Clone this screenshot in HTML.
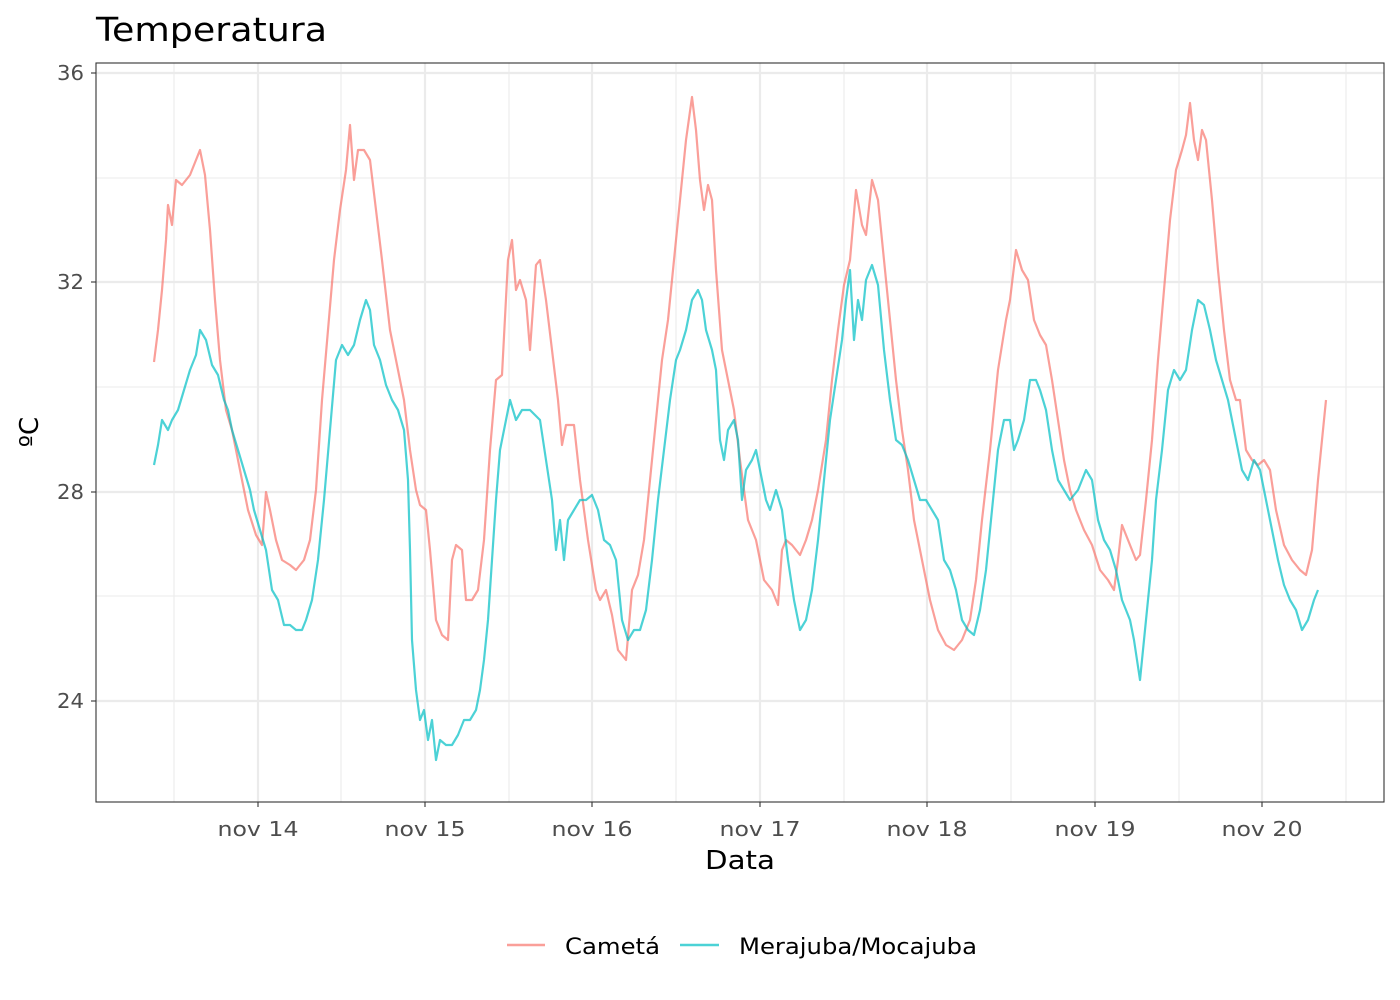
<!DOCTYPE html>
<html><head><meta charset="utf-8"><style>html,body{margin:0;padding:0;background:#fff;}svg{display:block;font-family:"DejaVu Sans","Liberation Sans",sans-serif;}</style></head>
<body>
<svg width="1400" height="1000" viewBox="0 0 1400 1000">
<rect width="1400" height="1000" fill="#fff"/>
<text x="96" y="41" font-size="33" fill="#000" textLength="231" lengthAdjust="spacingAndGlyphs">Temperatura</text>
<g stroke="#ebebeb" stroke-width="1.1">
<line x1="96" x2="1384" y1="178" y2="178"/><line x1="96" x2="1384" y1="387" y2="387"/><line x1="96" x2="1384" y1="596" y2="596"/>
<line y1="63" y2="802" x1="174" x2="174"/><line y1="63" y2="802" x1="341" x2="341"/><line y1="63" y2="802" x1="509" x2="509"/><line y1="63" y2="802" x1="676" x2="676"/><line y1="63" y2="802" x1="844" x2="844"/><line y1="63" y2="802" x1="1011" x2="1011"/><line y1="63" y2="802" x1="1179" x2="1179"/><line y1="63" y2="802" x1="1346" x2="1346"/>
</g>
<g stroke="#ebebeb" stroke-width="2.2">
<line x1="96" x2="1384" y1="73" y2="73"/><line x1="96" x2="1384" y1="282" y2="282"/><line x1="96" x2="1384" y1="492" y2="492"/><line x1="96" x2="1384" y1="701" y2="701"/>
<line y1="63" y2="802" x1="258" x2="258"/><line y1="63" y2="802" x1="425" x2="425"/><line y1="63" y2="802" x1="592" x2="592"/><line y1="63" y2="802" x1="760" x2="760"/><line y1="63" y2="802" x1="927" x2="927"/><line y1="63" y2="802" x1="1095" x2="1095"/><line y1="63" y2="802" x1="1262" x2="1262"/>
</g>
<polyline fill="none" stroke="#F8766D" stroke-opacity="0.7" stroke-width="2.2" stroke-linejoin="round" points="154,362 158,330 162,290 166,240 168,205 172,225 176,180 182,185 190,175 196,160 200,150 205,175 210,230 215,300 220,360 226,410 232,430 240,470 248,510 256,535 262,545 266,492 270,510 276,540 282,560 290,565 296,570 304,560 310,540 316,490 322,400 328,330 334,260 340,210 346,170 350,125 354,180 358,150 364,150 370,160 376,210 382,260 390,330 398,370 404,400 410,450 416,490 420,505 426,510 430,550 436,620 442,635 448,640 452,560 456,545 462,550 466,600 472,600 478,590 484,540 490,450 496,380 502,375 508,260 512,240 516,290 520,280 526,300 530,350 536,265 540,260 546,300 552,350 558,400 562,445 566,425 574,425 580,480 588,540 596,590 600,600 606,590 612,615 618,650 626,660 632,590 638,575 644,540 650,480 656,420 662,360 668,320 674,260 680,200 686,140 692,97 696,130 700,180 704,210 708,185 712,200 716,270 722,350 728,380 734,410 740,460 748,520 756,540 764,580 772,590 778,605 782,550 786,540 792,545 800,555 806,540 812,520 818,490 826,440 832,380 838,330 844,285 850,260 856,190 862,225 866,235 872,180 878,200 884,260 890,320 896,380 902,430 908,470 914,520 922,560 930,600 938,630 946,645 954,650 962,640 970,620 976,580 982,520 990,450 998,370 1006,320 1010,300 1016,250 1022,270 1028,280 1034,320 1040,335 1046,345 1052,380 1058,420 1064,460 1070,490 1076,510 1084,530 1092,545 1100,570 1108,580 1114,590 1118,560 1122,525 1130,545 1136,560 1140,555 1146,500 1152,440 1158,360 1164,290 1170,220 1176,170 1182,150 1186,135 1190,103 1194,140 1198,160 1202,130 1206,140 1212,200 1218,270 1224,330 1230,380 1236,400 1240,400 1246,450 1252,460 1258,465 1264,460 1270,470 1276,510 1284,545 1292,560 1300,570 1306,575 1312,550 1318,480 1322,440 1326,400"/>
<polyline fill="none" stroke="#00BFC4" stroke-opacity="0.7" stroke-width="2.2" stroke-linejoin="round" points="154,465 158,445 162,420 168,430 172,420 178,410 184,390 190,370 196,355 200,330 206,340 212,365 218,375 224,400 228,410 232,430 238,450 244,470 250,490 254,510 260,530 266,550 272,590 278,600 284,625 290,625 296,630 302,630 306,620 312,600 318,560 324,500 330,430 336,360 342,345 348,355 354,345 360,320 366,300 370,310 374,345 380,360 386,385 392,400 398,410 404,430 408,480 410,550 412,640 416,690 420,720 424,710 428,740 432,720 436,760 440,740 446,745 452,745 458,735 464,720 470,720 476,710 480,690 484,660 488,620 492,560 496,500 500,450 506,420 510,400 516,420 522,410 530,410 540,420 546,460 552,500 556,550 560,520 564,560 568,520 574,510 580,500 586,500 592,495 598,510 604,540 610,545 616,560 622,620 628,640 634,630 640,630 646,610 652,560 658,500 664,450 670,400 676,360 680,350 686,330 692,300 698,290 702,300 706,330 712,350 716,370 720,440 724,460 728,430 734,420 738,440 742,500 746,470 752,460 756,450 762,480 766,500 770,510 776,490 782,510 788,560 794,600 800,630 806,620 812,590 818,540 824,480 830,420 836,380 842,340 846,300 850,270 854,340 858,300 862,320 866,280 872,265 878,285 884,350 890,400 896,440 902,445 908,460 914,480 920,500 926,500 932,510 938,520 944,560 950,570 956,590 962,620 968,630 974,635 980,610 986,570 992,510 998,450 1004,420 1010,420 1014,450 1018,440 1024,420 1030,380 1036,380 1040,390 1046,410 1052,450 1058,480 1064,490 1070,500 1078,490 1086,470 1092,480 1098,520 1104,540 1110,550 1116,570 1122,600 1126,610 1130,620 1134,640 1140,680 1144,640 1148,600 1152,560 1156,500 1162,450 1168,390 1174,370 1180,380 1186,370 1192,330 1198,300 1204,305 1210,330 1216,360 1222,380 1228,400 1236,440 1242,470 1248,480 1254,460 1260,470 1266,500 1272,530 1278,560 1284,585 1290,600 1296,610 1302,630 1308,620 1314,600 1318,590"/>
<rect x="96" y="63" width="1288" height="739" fill="none" stroke="#333" stroke-width="1.1"/>
<g stroke="#333" stroke-width="1.1">
<line x1="91" x2="96" y1="73" y2="73"/><line x1="91" x2="96" y1="282" y2="282"/><line x1="91" x2="96" y1="492" y2="492"/><line x1="91" x2="96" y1="701" y2="701"/>
<line y1="802" y2="807" x1="258" x2="258"/><line y1="802" y2="807" x1="425" x2="425"/><line y1="802" y2="807" x1="592" x2="592"/><line y1="802" y2="807" x1="760" x2="760"/><line y1="802" y2="807" x1="927" x2="927"/><line y1="802" y2="807" x1="1095" x2="1095"/><line y1="802" y2="807" x1="1262" x2="1262"/>
</g>
<g font-size="20" fill="#4d4d4d" text-anchor="end">
<text x="84" y="80" textLength="27" lengthAdjust="spacingAndGlyphs">36</text><text x="84" y="289" textLength="27" lengthAdjust="spacingAndGlyphs">32</text><text x="84" y="499" textLength="27" lengthAdjust="spacingAndGlyphs">28</text><text x="84" y="708" textLength="27" lengthAdjust="spacingAndGlyphs">24</text>
</g>
<g font-size="20" fill="#4d4d4d" text-anchor="middle">
<text x="258" y="836" textLength="81" lengthAdjust="spacingAndGlyphs">nov 14</text><text x="425" y="836" textLength="81" lengthAdjust="spacingAndGlyphs">nov 15</text><text x="592" y="836" textLength="81" lengthAdjust="spacingAndGlyphs">nov 16</text><text x="760" y="836" textLength="81" lengthAdjust="spacingAndGlyphs">nov 17</text><text x="927" y="836" textLength="81" lengthAdjust="spacingAndGlyphs">nov 18</text><text x="1095" y="836" textLength="81" lengthAdjust="spacingAndGlyphs">nov 19</text><text x="1262" y="836" textLength="81" lengthAdjust="spacingAndGlyphs">nov 20</text>
</g>
<text x="740" y="869" font-size="26" text-anchor="middle" fill="#000" textLength="70" lengthAdjust="spacingAndGlyphs">Data</text>
<text transform="translate(38,432) rotate(-90)" font-size="26" text-anchor="middle" fill="#000">ºC</text>
<line x1="507" x2="545" y1="945" y2="945" stroke="#F8766D" stroke-opacity="0.7" stroke-width="2.5"/>
<text x="565" y="954" font-size="22" fill="#000" textLength="95" lengthAdjust="spacingAndGlyphs">Cametá</text>
<line x1="680" x2="719" y1="945" y2="945" stroke="#00BFC4" stroke-opacity="0.7" stroke-width="2.5"/>
<text x="739" y="954" font-size="22" fill="#000" textLength="238" lengthAdjust="spacingAndGlyphs">Merajuba/Mocajuba</text>
</svg>
</body></html>
